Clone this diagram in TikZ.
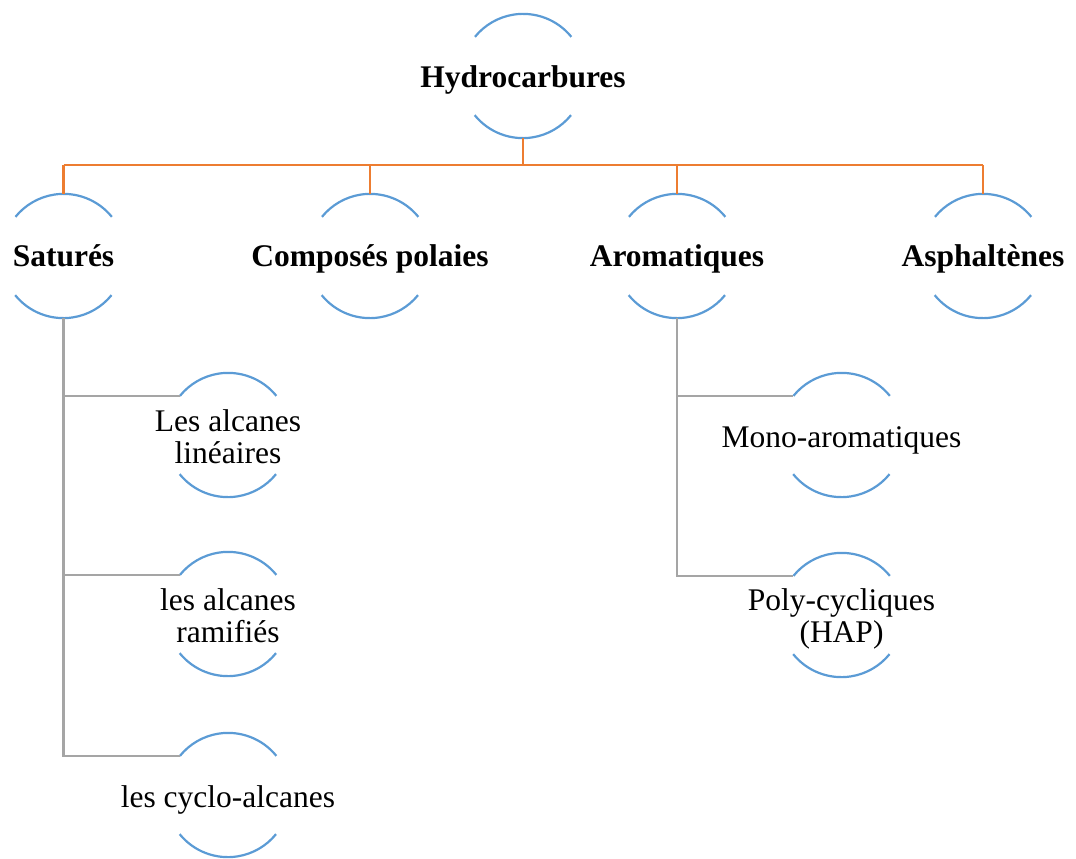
\documentclass[tikz,border=0pt]{standalone}
\usepackage{fontspec}
\setmainfont{Liberation Serif}
\definecolor{arcblue}{HTML}{5B9BD5}
\definecolor{busorange}{HTML}{ED7D31}
\definecolor{treegray}{HTML}{A5A5A5}
\begin{document}
\begin{tikzpicture}[x=1pt,y=1pt,
  ring/.style={circle,minimum size=124pt,inner sep=0pt,draw=none},
  arcline/.style={draw=arcblue,line width=2.2pt},
  bus/.style={draw=busorange,line width=2.2pt},
  tree/.style={draw=treegray,line width=2.6pt},
  bt/.style={font=\fontsize{31.5}{32}\selectfont\bfseries,inner sep=0pt,align=center},
  nt/.style={font=\fontsize{31.5}{32}\selectfont,inner sep=0pt,align=center}]
\useasboundingbox (0,0) rectangle (1076,-859);
% rings
\node[ring] (h) at (523,-76) {};
\node[ring] (s) at (63.5,-256) {};
\node[ring] (c) at (370,-256) {};
\node[ring] (ar) at (677,-256) {};
\node[ring] (as) at (983,-256) {};
\node[ring] (l1) at (228,-435) {};
\node[ring] (l2) at (228,-614) {};
\node[ring] (l3) at (228,-795) {};
\node[ring] (m1) at (841.5,-435) {};
\node[ring] (m2) at (841.5,-615) {};
\foreach \n in {h,s,c,ar,as,l1,l2,l3,m1,m2}{
  \draw[arcline] (\n.39) arc[start angle=39,end angle=141,radius=62pt];
  \draw[arcline] (\n.219) arc[start angle=219,end angle=321,radius=62pt];
}
% texts
\node[bt,anchor=base] (th) at (h.center |- 0,-88) {Hydrocarbures};
\node[bt,anchor=base] (ts) at (s.center |- 0,-266) {Saturés};
\node[bt,anchor=base] (tc) at (c.center |- 0,-266) {Composés polaies};
\node[bt,anchor=base] (tar) at (ar.center |- 0,-266) {Aromatiques};
\node[bt,anchor=base] (tas) at (as.center |- 0,-266) {Asphaltènes};
\node[nt] (tl1) at ([yshift=-2pt]l1.center) {Les alcanes\\linéaires};
\node[nt] (tl2) at ([yshift=-2pt]l2.center) {les alcanes\\ramifiés};
\node[nt,anchor=base] (tl3) at (l3.center |- 0,-807) {les cyclo-alcanes};
\node[nt,anchor=base] (tm1) at (m1.center |- 0,-447) {Mono-aromatiques};
\node[nt] (tm2) at ([yshift=-4pt]m2.center) {Poly-cycliques\\(HAP)};
% orange bus
\coordinate (busy) at (0,-165);
\draw[bus] (h.south) -- (h.south |- busy);
\draw[bus] (s.north |- busy) -- (as.north |- busy);
\foreach \n in {s,c,ar,as}{
  \draw[bus] (\n.north |- busy) -- (\n.north);
}
% gray trees
\draw[tree] (s.south) -- (s.south |- l3.141) -- (l3.141);
\draw[tree] (s.south |- l1.141) -- (l1.141);
\draw[tree] (s.south |- l2.141) -- (l2.141);
\draw[tree] (ar.south) -- (ar.south |- m2.141) -- (m2.141);
\draw[tree] (ar.south |- m1.141) -- (m1.141);
\end{tikzpicture}
\end{document}
